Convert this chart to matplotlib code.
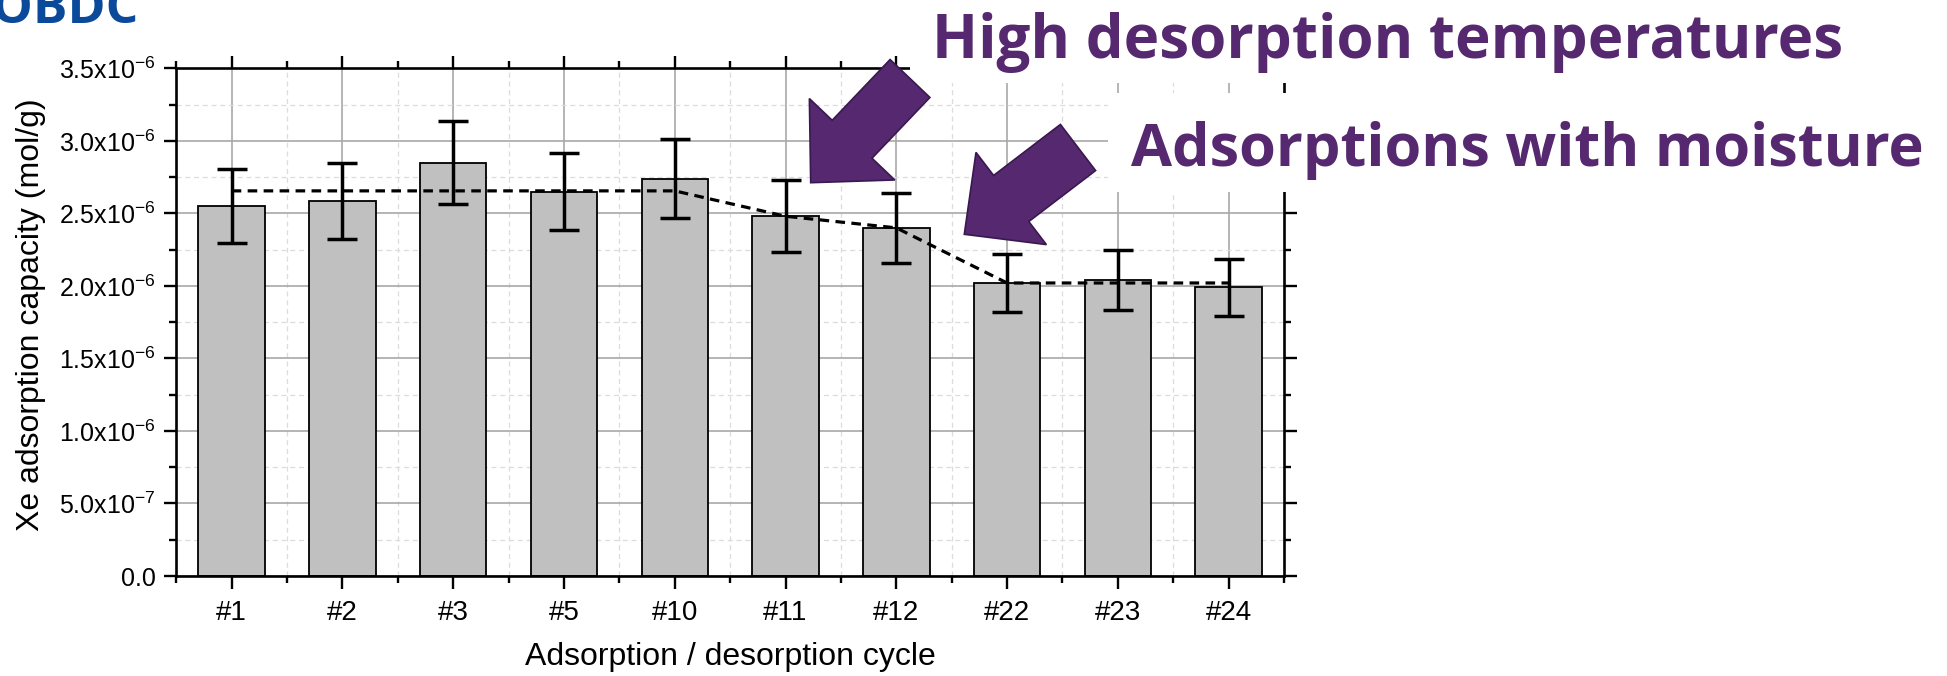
import matplotlib.pyplot as plt
from matplotlib.patches import FancyArrow, Rectangle
from matplotlib.ticker import MultipleLocator, FixedLocator

# Xe adsorption per cycle (mol/g)
cycles = ['#1', '#2', '#3', '#5', '#10', '#11', '#12', '#22', '#23', '#24']
capacity = [2.55e-6, 2.585e-6, 2.85e-6, 2.65e-6, 2.74e-6, 2.48e-6, 2.40e-6, 2.02e-6, 2.04e-6, 1.99e-6]
errors = [0.255e-6, 0.26e-6, 0.285e-6, 0.265e-6, 0.275e-6, 0.248e-6, 0.24e-6, 0.20e-6, 0.205e-6, 0.198e-6]
trend = [2.655e-6, 2.655e-6, 2.655e-6, 2.655e-6, 2.655e-6, 2.48e-6, 2.40e-6, 2.02e-6, 2.02e-6, 2.02e-6]

y_ticks = [0, 0.5e-6, 1.0e-6, 1.5e-6, 2.0e-6, 2.5e-6, 3.0e-6, 3.5e-6]
y_labels = ['0.0', '5.0x10$^{\\mathregular{-7}}$', '1.0x10$^{\\mathregular{-6}}$', '1.5x10$^{\\mathregular{-6}}$',
            '2.0x10$^{\\mathregular{-6}}$', '2.5x10$^{\\mathregular{-6}}$', '3.0x10$^{\\mathregular{-6}}$',
            '3.5x10$^{\\mathregular{-6}}$']

W, H = 1947, 676
plt.rcParams['font.family'] = ['Liberation Sans', 'DejaVu Sans']
fig = plt.figure(figsize=(W / 100, H / 100), dpi=100)
ax = fig.add_axes([176.3 / W, 1 - 576 / H, (1284 - 176.3) / W, (576 - 68.3) / H])

x = list(range(len(cycles)))
ax.bar(x, capacity, width=0.6, color='#c0c0c0', edgecolor='black', linewidth=1.3, zorder=2)
ax.errorbar(x, capacity, yerr=errors, fmt='none', ecolor='black', elinewidth=2.5,
            capsize=10.5, capthick=2.5, zorder=4)
ax.plot(x, trend, color='black', linestyle=(0, (3, 2)), linewidth=2.3, zorder=3)

ax.set_xlim(-0.5, len(cycles) - 0.5)
ax.set_ylim(0, 3.5e-6)
ax.set_xticks(x)
ax.set_xticklabels(cycles, fontsize=20)
ax.xaxis.set_minor_locator(FixedLocator([i - 0.5 for i in range(len(cycles) + 1)]))
ax.set_yticks(y_ticks)
ax.set_yticklabels(y_labels, fontsize=18)
ax.yaxis.set_minor_locator(MultipleLocator(0.25e-6))

ax.tick_params(which='both', direction='out', top=True, right=True, width=1.7)
ax.tick_params(which='major', length=9, pad=6)
ax.tick_params(which='minor', length=5)
ax.tick_params(axis='x', which='major', pad=8)
for s in ax.spines.values():
    s.set_linewidth(1.9)

ax.set_axisbelow(True)
ax.grid(which='major', color='#a8a8a8', linewidth=1.2)
ax.grid(which='minor', color='#dcdcdc', linewidth=0.9, linestyle=(0, (4, 3)))

ax.set_xlabel('Adsorption / desorption cycle', fontsize=23, labelpad=12)
ax.set_ylabel('Xe adsorption capacity (mol/g)', fontsize=23)
ax.yaxis.set_label_coords(-0.118, 0.515)

# white boxes behind the annotation text
px = fig.dpi_scale_trans
fig.add_artist(Rectangle((910 / 100, (H - 83) / 100), (W - 910) / 100, 83 / 100,
                         facecolor='white', edgecolor='none', transform=px, zorder=5))
fig.add_artist(Rectangle((1108 / 100, (H - 192) / 100), (W - 1108) / 100, 99 / 100,
                         facecolor='white', edgecolor='none', transform=px, zorder=5))

purple = '#55286f'
fig.text(932 / W, 1 - 58 / H, 'High desorption temperatures', color=purple, fontsize=43.3,
         fontweight='bold', family='Open Sans', va='baseline', ha='left', zorder=6)
fig.text(1131 / W, 1 - 165.7 / H, 'Adsorptions with moisture', color=purple, fontsize=42.8,
         fontweight='bold', family='Open Sans', va='baseline', ha='left', zorder=6)
fig.text(-8 / W, 1 - 22.7 / H, 'OBDC', color='#0b4a9b', fontsize=37,
         fontweight='bold', family='Open Sans', va='baseline', ha='left', zorder=6)

# block arrows (tail -> tip, in image pixels)
arrows = [((910, 78.5), (810.7, 182.7), 55, 118, 60),
          ((1078, 147.5), (964.3, 234.3), 58, 116, 59)]
for (tx, ty), (hx, hy), w, hw, hl in arrows:
    fig.add_artist(FancyArrow(tx / 100, (H - ty) / 100, (hx - tx) / 100, (ty - hy) / 100,
                              width=w / 100, head_width=hw / 100, head_length=hl / 100,
                              length_includes_head=True, facecolor=purple,
                              edgecolor='#3a1850', linewidth=1.2, transform=px, zorder=7))

fig.savefig('out.png', dpi=100)
